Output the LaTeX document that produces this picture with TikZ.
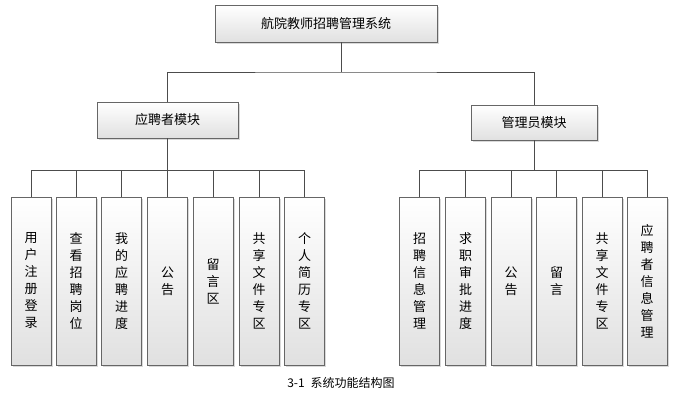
\documentclass[tikz,border=0pt]{standalone}
\usepackage{fontspec}
\setmainfont{Noto Sans CJK SC}
\usetikzlibrary{shadows}
\begin{document}
\begin{tikzpicture}[x=1pt,y=-1pt,
 bx/.style={draw=black!60,line width=0.8pt,top color=white,bottom color=black!12,drop shadow={shadow xshift=1.5pt,shadow yshift=-1.5pt,opacity=0.3},inner sep=0pt,font=\fontsize{13}{17}\selectfont},
 ln/.style={draw=black!70,line width=0.6pt}]
\useasboundingbox (0,0) rectangle (683,405);
\node[bx,minimum width=222pt,minimum height=37pt] (top) at (326,23.5) {航院教师招聘管理系统};
\node[bx,minimum width=141pt,minimum height=36pt] (L) at (167.5,120) {应聘者模块};
\node[bx,minimum width=126pt,minimum height=35pt] (R) at (534,122.5) {管理员模块};
\coordinate (tb) at (341,72);
\draw[ln] (top.south -| tb) -- (tb);
\draw[ln] (L.north) |- (tb) -| (R.north);
\foreach \n/\x/\t in {a/31/{用\\户\\注\\册\\登\\录},b/76/{查\\看\\招\\聘\\岗\\位},c/121.5/{我\\的\\应\\聘\\进\\度},d/167.5/{公\\告},e/213/{留\\言\\区},f/259/{共\\享\\文\\件\\专\\区},g/304.5/{个\\人\\简\\历\\专\\区}}{
 \node[bx,minimum width=40pt,minimum height=168pt,align=center] (\n) at (\x,281) {\t};
 \draw[ln] (L.south) -- (167.5,170) -| (\n.north);}
\foreach \n/\x/\t in {h/419.5/{招\\聘\\信\\息\\管\\理},i/465.5/{求\\职\\审\\批\\进\\度},j/511/{公\\告},k/556.5/{留\\言},l/602/{共\\享\\文\\件\\专\\区},m/647/{应\\聘\\者\\信\\息\\管\\理}}{
 \node[bx,minimum width=40pt,minimum height=168pt,align=center] (\n) at (\x,281) {\t};
 \draw[ln] (R.south) -- (534,170) -| (\n.north);}
\node[font=\fontsize{12}{14}\selectfont] (cap) at (341,383) {3-1\; 系统功能结构图};
\end{tikzpicture}
\end{document}
